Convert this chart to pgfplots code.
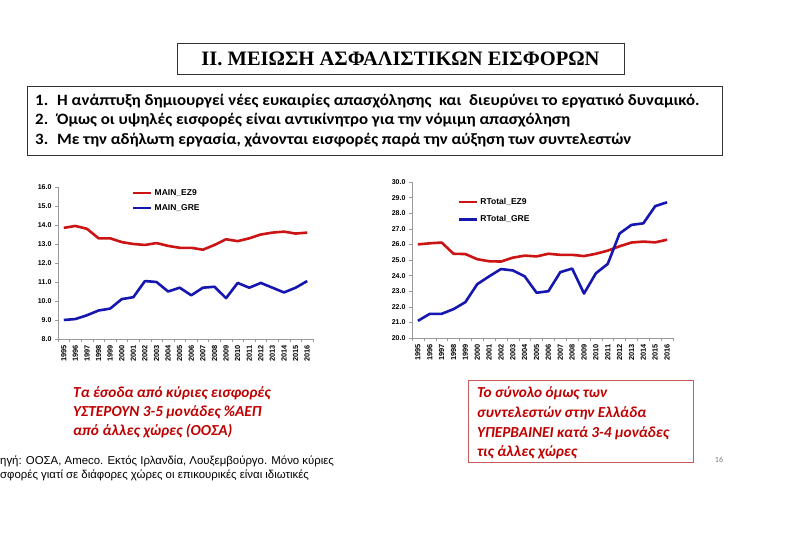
\documentclass[border=0pt]{standalone}
\usepackage{pgfplots}
\pgfplotsset{compat=1.18}
\usepackage{fontspec}
\setmainfont{Liberation Sans}
\newfontfamily\timesf{Liberation Serif}
\newfontfamily\calibri{Carlito}
\definecolor{lred}{RGB}{204,20,20}
\definecolor{lblue}{RGB}{22,22,176}
\definecolor{txtred}{RGB}{192,0,0}
\definecolor{boxred}{RGB}{200,90,90}
\pgfplotsset{
  slidechart/.style={
    scale only axis,
    anchor=south west,
    xmin=1994.5, xmax=2016.5,
    xtick={1995,...,2016},
    minor xtick={1994.5,1995.5,...,2016.5},
    major x tick style={draw=none},
    minor x tick style={draw=gray!80, line width=0.4pt},
    minor tick length=3pt,
    major tick length=3pt,
    tick align=outside,
    axis x line*=bottom, axis y line*=left,
    axis line style={draw=gray!80, line width=0.5pt, -},
    ytick style={draw=gray!80, line width=0.4pt},
    x tick label style={rotate=90, anchor=east, font=\fontsize{7.4}{7.4}\selectfont\bfseries, /pgf/number format/1000 sep={}},
    y tick label style={font=\fontsize{7}{7}\selectfont\bfseries, /pgf/number format/.cd, fixed, fixed zerofill, precision=1},
    /pgf/number format/assume math mode=true,
    legend cell align=left,
    legend image code/.code={\draw[#1] (0pt,0pt) -- (18pt,0pt);},
    every axis plot/.append style={line width=2.6pt, line join=round},
  }
}
\begin{document}
\begin{tikzpicture}[x=1pt,y=1pt]
\useasboundingbox (0,0) rectangle (785,552);
\fill[white] (0,0) rectangle (785,552);
\clip (0,0) rectangle (785,552);

% title
\node[draw=black!80, line width=0.9pt, minimum width=447pt, minimum height=31pt, inner sep=0pt] at (400.5,493.5)
  {\timesf\bfseries\fontsize{20.5}{22}\selectfont ΙΙ. ΜΕΙΩΣΗ ΑΣΦΑΛΙΣΤΙΚΩΝ ΕΙΣΦΟΡΩΝ};

% bullet box
\draw[black!80, line width=0.9pt] (27,397) rectangle (722,466);
\begin{scope}[every node/.style={anchor=base west, inner sep=0pt, xscale=1.067, font=\calibri\bfseries\fontsize{15.8}{17}\selectfont}]
\node at (35,446.5) {1.};
\node at (57,446.5) {Η ανάπτυξη δημιουργεί νέες ευκαιρίες απασχόλησης \ και \ διευρύνει το εργατικό δυναμικό.};
\node at (35,427) {2.};
\node at (57,427) {Όμως οι υψηλές εισφορές είναι αντικίνητρο για την νόμιμη απασχόληση};
\node at (35,407.5) {3.};
\node at (57,407.5) {Με την αδήλωτη εργασία, χάνονται εισφορές παρά την αύξηση των συντελεστών};
\end{scope}

% left chart
\begin{axis}[slidechart,
  at={(58pt,213pt)}, width=255pt, height=152pt,
  ymin=8, ymax=16, ytick={8,9,...,16},
  legend style={at={(0.29,1.0)}, anchor=north west, draw=none, fill=none,
    font=\fontsize{8.5}{9}\selectfont\bfseries, row sep=3.5pt, inner sep=0pt},
]
\addplot[lred] coordinates {
(1995,13.85)(1996,13.95)(1997,13.8)(1998,13.3)(1999,13.3)(2000,13.1)(2001,13.0)(2002,12.95)
(2003,13.05)(2004,12.9)(2005,12.8)(2006,12.8)(2007,12.7)(2008,12.95)(2009,13.25)(2010,13.15)
(2011,13.3)(2012,13.5)(2013,13.6)(2014,13.65)(2015,13.55)(2016,13.6)};
\addlegendentry{MAIN\_EZ9}
\addplot[lblue] coordinates {
(1995,9.0)(1996,9.05)(1997,9.25)(1998,9.5)(1999,9.6)(2000,10.1)(2001,10.2)(2002,11.05)
(2003,11.0)(2004,10.5)(2005,10.7)(2006,10.3)(2007,10.7)(2008,10.75)(2009,10.15)(2010,10.95)
(2011,10.7)(2012,10.95)(2013,10.7)(2014,10.45)(2015,10.7)(2016,11.05)};
\addlegendentry{MAIN\_GRE}
\end{axis}

% right chart
\begin{axis}[slidechart,
  at={(412pt,214pt)}, width=261pt, height=156pt,
  ymin=20, ymax=30, ytick={20,21,...,30},
  legend style={at={(0.175,0.91)}, anchor=north west, draw=none, fill=none,
    font=\fontsize{8.5}{9}\selectfont\bfseries, row sep=5.5pt, inner sep=0pt},
]
\addplot[lred] coordinates {
(1995,26.0)(1996,26.07)(1997,26.12)(1998,25.4)(1999,25.38)(2000,25.05)(2001,24.92)(2002,24.9)
(2003,25.15)(2004,25.28)(2005,25.23)(2006,25.4)(2007,25.33)(2008,25.33)(2009,25.25)(2010,25.4)
(2011,25.6)(2012,25.88)(2013,26.12)(2014,26.18)(2015,26.13)(2016,26.3)};
\addlegendentry{RTotal\_EZ9}
\addplot[lblue] coordinates {
(1995,21.1)(1996,21.55)(1997,21.55)(1998,21.85)(1999,22.3)(2000,23.45)(2001,23.95)(2002,24.42)
(2003,24.33)(2004,23.95)(2005,22.9)(2006,23.0)(2007,24.22)(2008,24.45)(2009,22.85)(2010,24.15)
(2011,24.75)(2012,26.7)(2013,27.25)(2014,27.35)(2015,28.45)(2016,28.7)};
\addlegendentry{RTotal\_GRE}
\end{axis}

% left red note
\begin{scope}[every node/.style={anchor=base west, inner sep=0pt, text=txtred, font=\calibri\bfseries\itshape\fontsize{15.3}{16}\selectfont}]
\node at (73,154) {Τα έσοδα από κύριες εισφορές};
\node at (73,135) {ΥΣΤΕΡΟΥΝ 3-5 μονάδες \%ΑΕΠ};
\node at (73,116) {από άλλες χώρες (ΟΟΣΑ)};
\end{scope}

% right red box
\draw[boxred, line width=0.9pt] (468,90) rectangle (693,172);
\begin{scope}[every node/.style={anchor=base west, inner sep=0pt, text=txtred, font=\calibri\bfseries\itshape\fontsize{15.3}{16}\selectfont}]
\node at (477,154) {Το σύνολο όμως των};
\node at (477,134) {συντελεστών στην Ελλάδα};
\node at (477,114) {ΥΠΕΡΒΑΙΝΕΙ κατά 3-4 μονάδες};
\node at (477,95) {τις άλλες χώρες};
\end{scope}

% source
\begin{scope}[every node/.style={anchor=base west, inner sep=0pt, font=\fontsize{11.4}{12}\selectfont}]
\node at (0,87) {ηγή: ΟΟΣΑ, Ameco. Εκτός Ιρλανδία, Λουξεμβούργο. Μόνο κύριες};
\node at (0,73) {σφορές γιατί σε διάφορες χώρες οι επικουρικές είναι ιδιωτικές};
\end{scope}

\node[anchor=base, inner sep=0pt, text=gray, font=\calibri\fontsize{8}{9}\selectfont] at (719,89) {16};
\end{tikzpicture}
\end{document}
